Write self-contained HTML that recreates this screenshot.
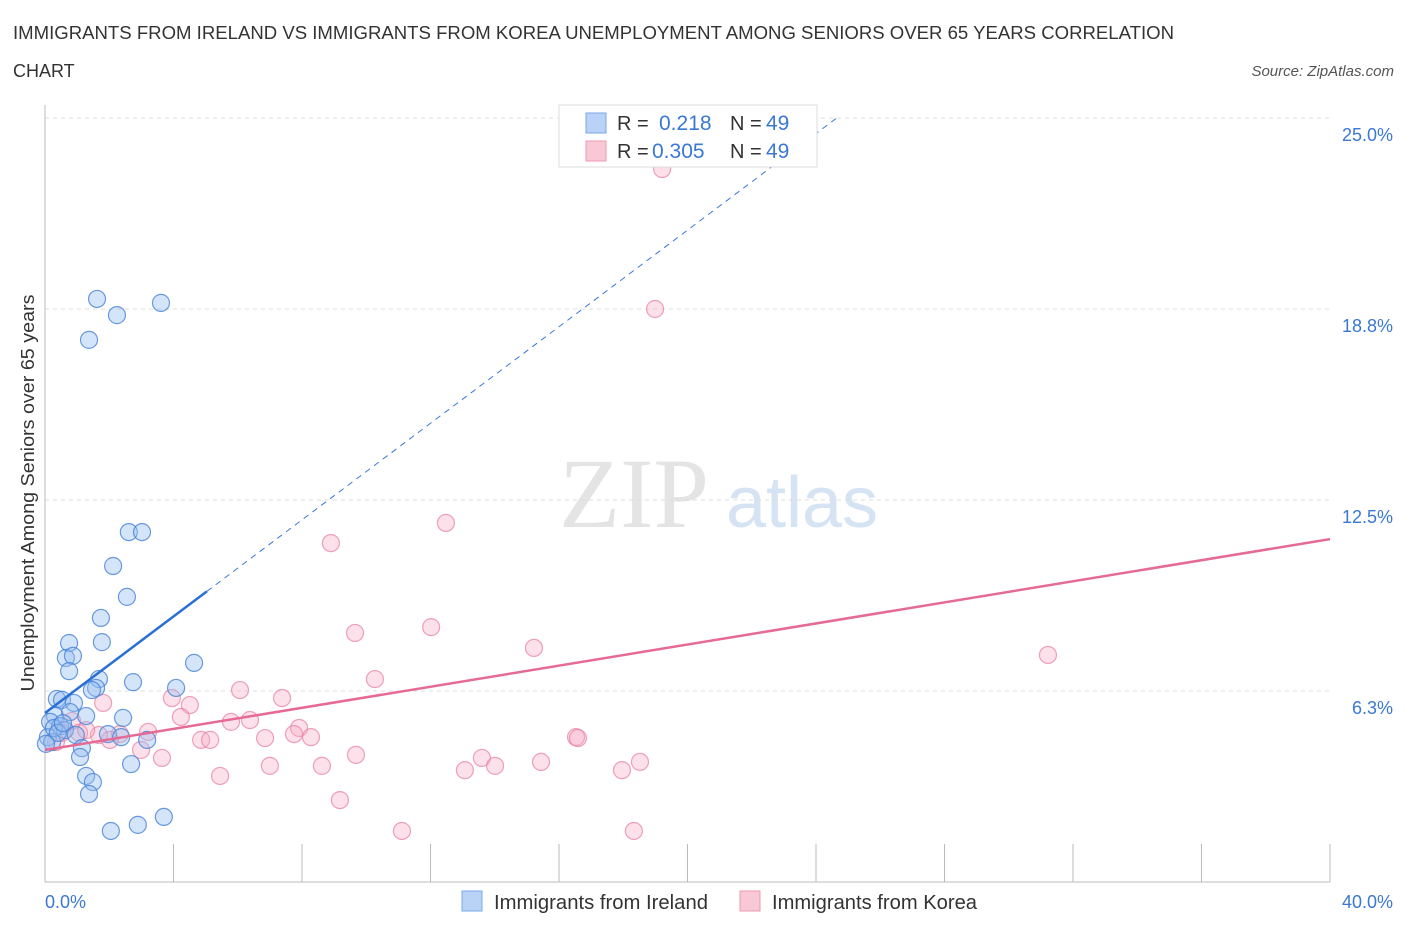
<!DOCTYPE html>
<html><head><meta charset="utf-8"><style>
body{margin:0;background:#fff;font-family:"Liberation Sans",sans-serif;}
#wrap{position:relative;width:1406px;height:930px;overflow:hidden;}
</style></head><body>
<div id="wrap">
<svg id="chart" width="1406" height="930" xmlns="http://www.w3.org/2000/svg">
<text x="13" y="39" font-size="18" fill="#333" textLength="1161" lengthAdjust="spacingAndGlyphs">IMMIGRANTS FROM IRELAND VS IMMIGRANTS FROM KOREA UNEMPLOYMENT AMONG SENIORS OVER 65 YEARS CORRELATION</text>
<text x="13" y="77" font-size="18" fill="#333">CHART</text>
<text x="1394" y="76" font-size="15" fill="#555" font-style="italic" text-anchor="end">Source: ZipAtlas.com</text>
<text x="634" y="527" font-size="100" fill="#e4e4e4" font-family="Liberation Serif,serif" text-anchor="middle">ZIP</text>
<text x="802" y="527" font-size="72" fill="#d5e3f3" text-anchor="middle">atlas</text>
<text x="34" y="493" font-size="18" fill="#333" text-anchor="middle" textLength="397" lengthAdjust="spacingAndGlyphs" transform="rotate(-90 34 493)">Unemployment Among Seniors over 65 years</text>
<g id="grid"></g><g id="marks"></g>
<g>
<rect x="559" y="105" width="258" height="62" fill="#fff" stroke="#ddd"/>
<rect x="586" y="113" width="20" height="20" fill="#b8d3f5" stroke="#7aa7e6"/>
<rect x="586" y="141" width="20" height="20" fill="#f9c8d6" stroke="#ee9ab3"/>
<text x="617" y="130" font-size="20" fill="#333">R =</text><text x="659" y="130" font-size="21" fill="#3a78d4">0.218</text>
<text x="730" y="130" font-size="20" fill="#333">N =</text><text x="766" y="130" font-size="21" fill="#3a78d4">49</text>
<text x="617" y="158" font-size="20" fill="#333">R =</text><text x="652" y="158" font-size="21" fill="#3a78d4">0.305</text>
<text x="730" y="158" font-size="20" fill="#333">N =</text><text x="766" y="158" font-size="21" fill="#3a78d4">49</text>
</g>
<g>
<rect x="462" y="891" width="20" height="20" fill="#b8d3f5" stroke="#7aa7e6"/>
<text x="494" y="909" font-size="20" fill="#333" textLength="214" lengthAdjust="spacingAndGlyphs">Immigrants from Ireland</text>
<rect x="740" y="891" width="20" height="20" fill="#f9c8d6" stroke="#ee9ab3"/>
<text x="772" y="909" font-size="20" fill="#333" textLength="205" lengthAdjust="spacingAndGlyphs">Immigrants from Korea</text>
</g>
</svg>
</div>
<script>
const irelandX=[1.62,2.24,3.61,1.37,2.61,3.02,2.12,2.55,1.74,0.75,1.77,0.65,0.87,0.75,4.64,1.68,1.59,1.46,2.74,4.08,0.37,0.53,0.90,0.31,1.28,2.43,0.16,0.47,0.62,1.96,2.37,3.18,0.96,0.09,0.22,1.15,1.09,2.68,1.28,1.49,1.37,2.05,2.89,3.70,0.28,0.40,0.03,0.78,0.56];
const irelandY=[19.08,18.55,18.95,17.74,11.45,11.45,10.34,9.33,8.64,7.82,7.85,7.33,7.40,6.90,7.17,6.64,6.35,6.28,6.54,6.35,5.99,5.96,5.86,5.43,5.43,5.37,5.24,5.10,4.97,4.84,4.74,4.65,4.81,4.74,4.58,4.38,4.09,3.86,3.47,3.27,2.88,1.67,1.87,2.13,5.04,4.88,4.52,5.56,5.20];
const koreaX=[19.21,18.99,12.48,8.90,9.65,12.02,15.22,31.22,10.27,6.07,7.38,3.95,4.51,1.81,4.23,6.38,5.79,7.91,7.75,8.28,6.85,4.86,5.14,3.21,2.33,2.02,0.84,0.53,1.06,0.34,16.53,16.59,9.68,13.60,14.01,13.07,8.62,7.00,15.44,18.52,17.96,3.64,2.99,5.45,9.18,11.11,18.33,1.68,1.28];
const koreaY=[23.33,18.75,11.75,11.09,8.15,8.34,7.66,7.43,6.64,6.28,6.02,6.02,5.79,5.86,5.40,5.30,5.24,5.04,4.84,4.74,4.71,4.65,4.65,4.91,4.84,4.65,5.27,4.88,4.88,4.58,4.74,4.71,4.16,4.06,3.80,3.66,3.80,3.80,3.93,3.93,3.66,4.06,4.32,3.47,2.68,1.67,1.67,4.81,4.97];
const yTicks=[6.25,12.5,18.75,25];
const yTickLabels=["6.3%","12.5%","18.8%","25.0%"];
const xTicks=[0,4,8,12,16,20,24,28,32,36,40];
const irelandTrend=[5.53,0.79]; // intercept, slope
const koreaTrend=[4.32,0.1725];
const irelandSolidEnd=5.04;

const xs=v=>45+v*32.125, ys=v=>882-v*30.56;
const NS="http://www.w3.org/2000/svg";
function mk(tag,attrs,parent){const e=document.createElementNS(NS,tag);for(const k in attrs)e.setAttribute(k,attrs[k]);parent.appendChild(e);return e;}
const grid=document.getElementById('grid'), marks=document.getElementById('marks');
yTicks.forEach((t,i)=>{
  const l=mk('line',{x1:45,x2:1330,y1:ys(t),y2:ys(t),stroke:'#ddd','stroke-dasharray':'4,4'},grid);
  
  
  const tx=mk('text',{x:1393,y:ys(t)+23,'font-size':18,fill:'#3a78d4','text-anchor':'end'},grid);
  tx.textContent=yTickLabels[i];
  
  
});
const ax=mk('line',{x1:45,x2:1330,y1:882,y2:882,stroke:'#bbb'},grid);


const ay=mk('line',{x1:45,x2:45,y1:105,y2:882,stroke:'#bbb'},grid);


xTicks.forEach(t=>{
  const l=mk('line',{x1:xs(t),x2:xs(t),y1:844,y2:882,stroke:'#bbb'},grid);
  
  
});
const x0=mk('text',{x:45,y:908,'font-size':18,fill:'#3a78d4'},grid);x0.textContent='0.0%';


const x1=mk('text',{x:1393,y:908,'font-size':18,fill:'#3a78d4','text-anchor':'end'},grid);x1.textContent='40.0%';



koreaX.forEach((x,i)=>{
  const c=mk('circle',{cx:xs(x),cy:ys(koreaY[i]),r:8.5,fill:'rgba(246,170,195,0.35)',stroke:'rgba(232,130,165,0.75)','stroke-width':1.2},marks);
  
  
});
irelandX.forEach((x,i)=>{
  const c=mk('circle',{cx:xs(x),cy:ys(irelandY[i]),r:8.5,fill:'rgba(150,190,240,0.4)',stroke:'rgba(70,130,215,0.8)','stroke-width':1.2},marks);
  
  
});
const tb=(v,t)=>t[0]+t[1]*v;
const dashEnd=(25-irelandTrend[0])/irelandTrend[1];
const bd=mk('line',{x1:xs(irelandSolidEnd),y1:ys(tb(irelandSolidEnd,irelandTrend)),x2:xs(dashEnd),y2:ys(tb(dashEnd,irelandTrend)),stroke:'#3a78d4','stroke-width':1,'stroke-dasharray':'6,5'},marks);


const bs=mk('line',{x1:xs(0),y1:ys(tb(0,irelandTrend)),x2:xs(irelandSolidEnd),y2:ys(tb(irelandSolidEnd,irelandTrend)),stroke:'#2a6fd6','stroke-width':2.5},marks);


const ks=mk('line',{x1:xs(0),y1:ys(tb(0,koreaTrend)),x2:xs(40),y2:ys(tb(40,koreaTrend)),stroke:'#e56a95','stroke-width':2.5},marks);


</script>
</body></html>
